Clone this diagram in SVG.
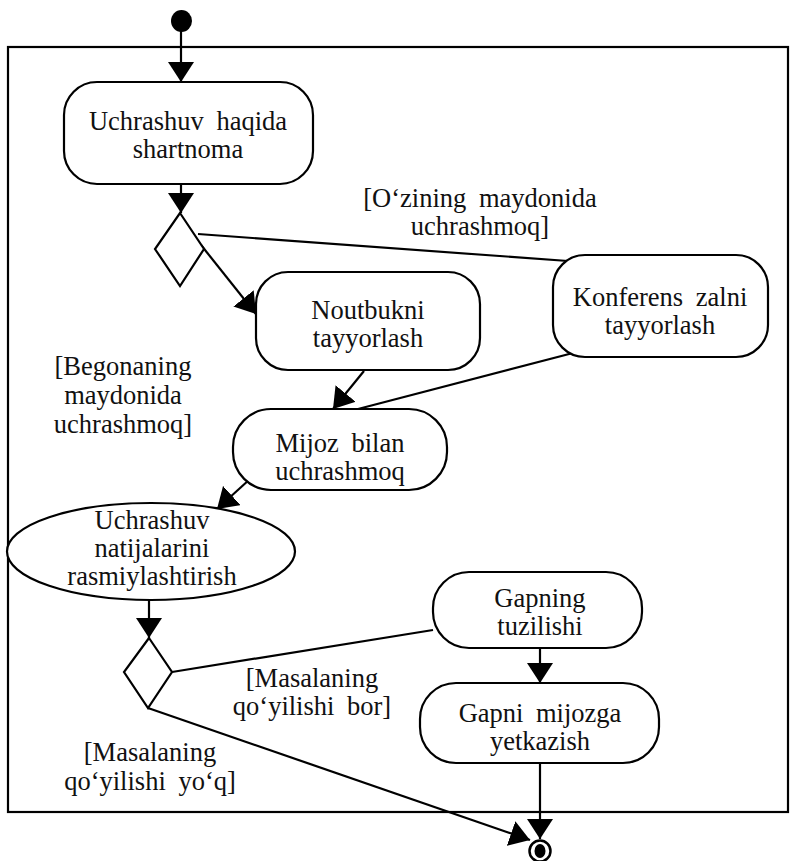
<svg xmlns="http://www.w3.org/2000/svg" width="796" height="861" viewBox="0 0 796 861">
  <style>
    .shape { fill: #fff; stroke: #000; stroke-width: 2.2; }
    .edge { fill: none; stroke: #000; stroke-width: 2.2; }
    .lbl { font-family: "Liberation Serif", "Times New Roman", serif; font-size: 26.5px; fill: #111; text-anchor: middle; word-spacing: 6px; }
  </style>
  <defs>
    <marker id="arrow" markerUnits="userSpaceOnUse" markerWidth="20" markerHeight="26" refX="20" refY="13" orient="auto">
      <path d="M0,0 L20,13 L0,26 z" fill="#000"/>
    </marker>
  </defs>

  <rect width="796" height="861" fill="#fff"/>

  <!-- activity frame -->
  <rect id="frame" x="8" y="47" width="780" height="765" fill="none" stroke="#000" stroke-width="2.2"/>

  <!-- connectors -->
  <g id="connectors">
    <line class="edge" x1="181" y1="30" x2="181" y2="82" marker-end="url(#arrow)"/>
    <line class="edge" x1="181" y1="184" x2="181" y2="213" marker-end="url(#arrow)"/>
    <line class="edge" x1="198" y1="234" x2="568" y2="261"/>
    <line class="edge" x1="201" y1="245" x2="256" y2="314" marker-end="url(#arrow)"/>
    <line class="edge" x1="364" y1="371" x2="333" y2="409" marker-end="url(#arrow)"/>
    <line class="edge" x1="573" y1="353" x2="358" y2="409"/>
    <line class="edge" x1="250" y1="479" x2="217" y2="509" marker-end="url(#arrow)"/>
    <line class="edge" x1="149" y1="593" x2="149" y2="638" marker-end="url(#arrow)"/>
    <line class="edge" x1="172" y1="672" x2="433" y2="630"/>
    <line class="edge" x1="148" y1="708" x2="530" y2="840" marker-end="url(#arrow)"/>
    <line class="edge" x1="540" y1="648" x2="540" y2="683" marker-end="url(#arrow)"/>
    <line class="edge" x1="540" y1="763" x2="540" y2="839" marker-end="url(#arrow)"/>
  </g>

  <!-- initial node -->
  <g id="start">
    <ellipse cx="181.5" cy="21" rx="10.5" ry="11" fill="#000"/>
  </g>

  <g id="agreement">
    <rect class="shape" x="64" y="82" width="249" height="102" rx="33" ry="33"/>
    <text class="lbl" x="188" y="130">Uchrashuv haqida</text>
    <text class="lbl" x="188" y="158">shartnoma</text>
  </g>

  <g id="decision1">
    <polygon class="shape" points="180,213 204,249 180,286 155,249"/>
  </g>

  <g id="laptop">
    <rect class="shape" x="256" y="272" width="224" height="98" rx="32" ry="32"/>
    <text class="lbl" x="368" y="319">Noutbukni</text>
    <text class="lbl" x="368" y="347">tayyorlash</text>
  </g>

  <g id="hall">
    <rect class="shape" x="553" y="255" width="215" height="102" rx="32" ry="32"/>
    <text class="lbl" x="660" y="306">Konferens zalni</text>
    <text class="lbl" x="660" y="334">tayyorlash</text>
  </g>

  <g id="meeting">
    <rect class="shape" x="233" y="409" width="214" height="81" rx="38" ry="38"/>
    <text class="lbl" x="340" y="452">Mijoz bilan</text>
    <text class="lbl" x="340" y="480">uchrashmoq</text>
  </g>

  <g id="results">
    <ellipse class="shape" cx="151" cy="551.5" rx="144" ry="48.5"/>
    <text class="lbl" x="152" y="529">Uchrashuv</text>
    <text class="lbl" x="152" y="557">natijalarini</text>
    <text class="lbl" x="152" y="585">rasmiylashtirish</text>
  </g>

  <g id="decision2">
    <polygon class="shape" points="149,638 172,672 148,708 124,672"/>
  </g>

  <g id="sentence">
    <rect class="shape" x="433" y="572" width="209" height="76" rx="36" ry="36"/>
    <text class="lbl" x="540" y="607">Gapning</text>
    <text class="lbl" x="540" y="635">tuzilishi</text>
  </g>

  <g id="deliver">
    <rect class="shape" x="420" y="683" width="239" height="80" rx="36" ry="36"/>
    <text class="lbl" x="540" y="722">Gapni mijozga</text>
    <text class="lbl" x="540" y="750">yetkazish</text>
  </g>

  <!-- final node -->
  <g id="end">
    <circle cx="540" cy="851" r="10.5" fill="#fff" stroke="#000" stroke-width="2.5"/>
    <ellipse cx="540" cy="851" rx="5.5" ry="7" fill="#000"/>
  </g>

  <!-- guard labels -->
  <g id="guards">
    <text class="lbl" x="480" y="207">[O‘zining maydonida</text>
    <text class="lbl" x="480" y="235">uchrashmoq]</text>
    <text class="lbl" x="123" y="375">[Begonaning</text>
    <text class="lbl" x="123" y="404">maydonida</text>
    <text class="lbl" x="123" y="433">uchrashmoq]</text>
    <text class="lbl" x="312" y="687">[Masalaning</text>
    <text class="lbl" x="312" y="715">qo‘yilishi bor]</text>
    <text class="lbl" x="150" y="761">[Masalaning</text>
    <text class="lbl" x="150" y="790">qo‘yilishi yo‘q]</text>
  </g>
</svg>
